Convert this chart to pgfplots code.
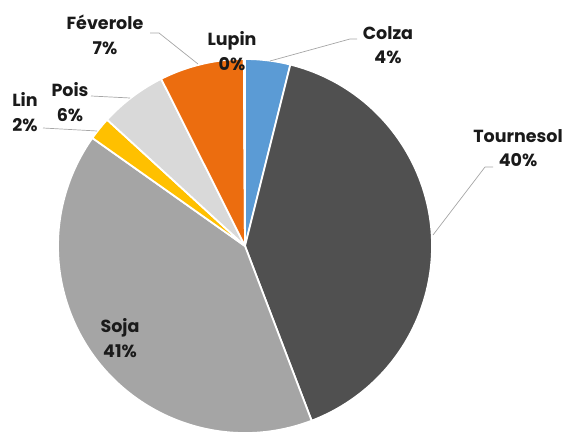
\documentclass[border=0pt]{standalone}
\usepackage{fontspec}
\setmainfont{Poppins}
\usepackage{pgfplots}
\usepackage{pgfplotstable}
\pgfplotsset{compat=1.18}
\definecolor{colza}{HTML}{5B9BD5}
\definecolor{tournesol}{HTML}{505050}
\definecolor{soja}{HTML}{A5A5A5}
\definecolor{lin}{HTML}{FFC000}
\definecolor{pois}{HTML}{D9D9D9}
\definecolor{feverole}{HTML}{EC6D0F}
\definecolor{lupin}{HTML}{264478}
\definecolor{leader}{HTML}{A6A6A6}
\definecolor{txt}{HTML}{1A1A1A}
\pgfplotstableread[col sep=comma]{
name,value,col
Colza,3.9,colza
Tournesol,40.3,tournesol
Soja,40.6,soja
Lin,2.0,lin
Pois,5.8,pois
Féverole,7.3,feverole
Lupin,0.1,lupin
}\piedata
\begin{document}
\begin{tikzpicture}
\begin{axis}[
  hide axis, scale only axis,
  width=568bp, height=432bp,
  xmin=0, xmax=568, ymin=0, ymax=432,
  clip=false,
]
\pgfplotsextra{
  \path (axis cs:0,0) rectangle (axis cs:568,432);
  \begin{pgfinterruptboundingbox}
  \gdef\cum{0}
  \foreach \i in {0,...,6}{
    \pgfplotstablegetelem{\i}{value}\of\piedata \let\slv\pgfplotsretval
    \pgfplotstablegetelem{\i}{col}\of\piedata \let\slc\pgfplotsretval
    \pgfmathsetmacro\sa{90-3.6*\cum}
    \pgfmathsetmacro\sb{90-3.6*(\cum+\slv)}
    \fill[\slc, draw=white, line width=1.8pt, line join=round]
      (axis cs:245,186) -- ++(\sa:187bp) arc[start angle=\sa, end angle=\sb, radius=187bp] -- cycle;
    \pgfmathsetmacro\ncum{\cum+\slv}
    \xdef\cum{\ncum}
  }
  \end{pgfinterruptboundingbox}
  % leader lines
  \draw[leader, line width=0.7pt] (axis cs:270,371) -- (axis cs:350,393) -- (axis cs:357,393);
  \draw[leader, line width=0.7pt] (axis cs:433,197) -- (axis cs:485,265) -- (axis cs:493,265);
  \draw[leader, line width=0.7pt] (axis cs:43,304) -- (axis cs:97,301);
  \draw[leader, line width=0.7pt] (axis cs:91,336) -- (axis cs:130,334);
  \draw[leader, line width=0.7pt] (axis cs:150,399) -- (axis cs:159,399) -- (axis cs:198,368);
  % labels
  \tikzset{lbl/.style={align=center, font=\bfseries\fontsize{17.5bp}{24.5bp}\selectfont, text=txt, inner sep=0pt}}
  \node[lbl] at (axis cs:388,387) {Colza\\4\%};
  \node[lbl] at (axis cs:518,284) {Tournesol\\40\%};
  \node[lbl] at (axis cs:120,94) {Soja\\41\%};
  \node[lbl] at (axis cs:25,320) {Lin\\2\%};
  \node[lbl] at (axis cs:70,330) {Pois\\6\%};
  \node[lbl] at (axis cs:105,397) {Féverole\\7\%};
  \node[lbl] at (axis cs:232,381) {Lupin\\0\%};
}
\end{axis}
\end{tikzpicture}
\end{document}
